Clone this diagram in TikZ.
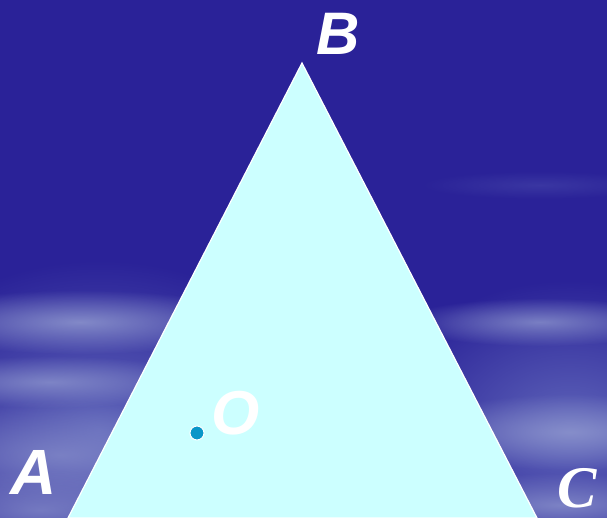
\documentclass[tikz,border=0pt]{standalone}
\usepackage{fontspec}
\setmainfont{Liberation Sans}
\newfontfamily\serifbi{Liberation Serif}
\usetikzlibrary{fadings}
\tikzfading[name=softblob, inner color=transparent!0, outer color=transparent!100]
\definecolor{bgtop}{HTML}{2A2298}
\definecolor{bgmid}{HTML}{1F1888}
\definecolor{cloud}{HTML}{8A92CC}
\definecolor{cloudb}{HTML}{6066BA}
\definecolor{trifill}{HTML}{CCFFFF}
\definecolor{dotcol}{HTML}{0A96C8}
\tikzset{
  blob/.style={fill=#1, path fading=softblob},
  vlabel/.style={text=white, inner sep=0pt, font=\fontsize{62}{62}\selectfont\bfseries\itshape},
}
\begin{document}
\begin{tikzpicture}[x=1pt,y=-1pt]
\useasboundingbox (0,0) rectangle (607,518);
\shade[top color=bgtop, middle color=bgmid, bottom color=bgtop] (0,0) rectangle (607,518);
% clouds left
\fill[blob=cloudb] (100,430) ellipse (230 and 170);
\fill[blob=cloud, opacity=0.9] (80,322) ellipse (180 and 32);
\fill[blob=cloud, opacity=0.8] (50,382) ellipse (160 and 26);
\fill[blob=cloud, opacity=0.7] (60,455) ellipse (180 and 55);
\fill[blob=cloud, opacity=0.7] (40,510) ellipse (170 and 40);
% clouds right
\fill[blob=cloudb] (570,430) ellipse (200 and 150);
\fill[blob=cloud, opacity=0.8] (540,322) ellipse (140 and 24);
\fill[blob=cloud, opacity=0.9] (570,432) ellipse (160 and 38);
\fill[blob=cloud, opacity=0.8] (560,505) ellipse (160 and 32);
\fill[blob=cloudb, opacity=0.3] (540,185) ellipse (120 and 14);
% triangle
\coordinate (A) at (68,518);
\coordinate (B) at (302,63);
\coordinate (C) at (537,518);
\filldraw[fill=trifill, draw=white, line width=1.2pt] (A) -- (B) -- (C) -- cycle;
% center point
\node[circle, fill=dotcol, draw=white, line width=1pt, minimum size=14pt, inner sep=0pt] (Odot) at (197,433) {};
\node[vlabel] (Olab) at (236,413) {O};
\node[vlabel, font=\fontsize{60}{60}\selectfont\bfseries\itshape] (Blab) at (338,34) {B};
\node[vlabel, font=\fontsize{64}{64}\selectfont\bfseries\itshape] (Alab) at (34,472) {A};
\node[text=white, inner sep=0pt, font=\serifbi\fontsize{59}{59}\selectfont\bfseries\itshape] (Clab) at (577,488) {C};
\end{tikzpicture}
\end{document}
